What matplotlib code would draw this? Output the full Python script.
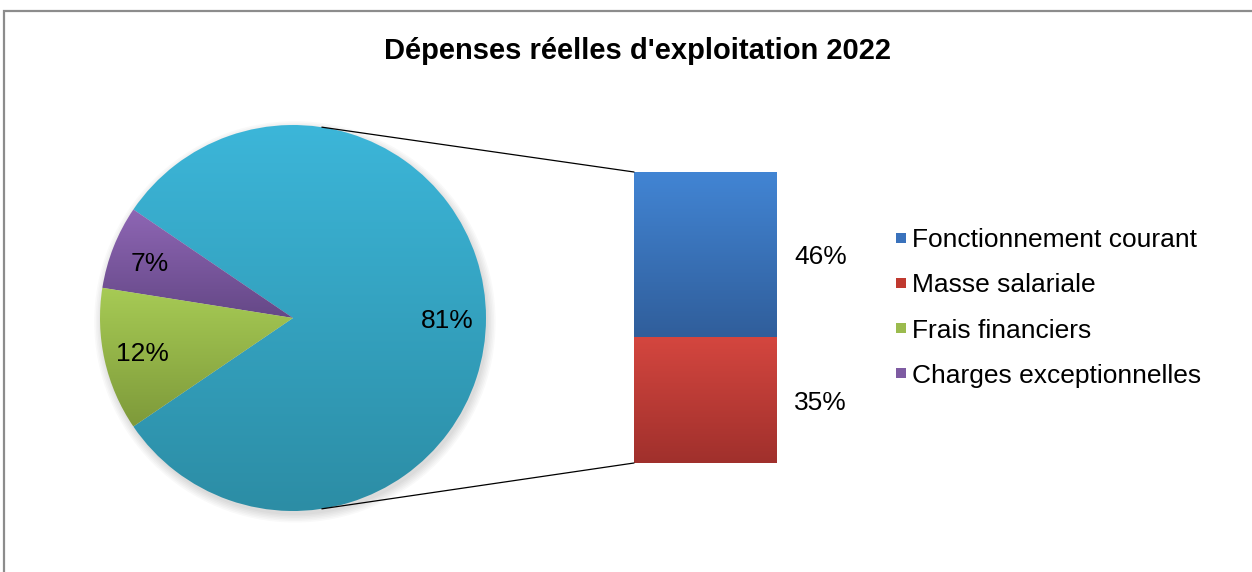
import numpy as np
import matplotlib.pyplot as plt
from matplotlib.colors import LinearSegmentedColormap
from matplotlib.patches import ConnectionPatch, Rectangle, Circle
from matplotlib.lines import Line2D

plt.rcParams['font.family'] = ['Liberation Sans', 'DejaVu Sans']

# Données
categories = ['Fonctionnement courant', 'Masse salariale', 'Frais financiers', 'Charges exceptionnelles']
values = [46, 35, 12, 7]
legend_colors = ['#3A72BC', '#C0392F', '#9BBB4E', '#7E5BA2']

# couleurs dégradées (haut, bas)
pie_grad = [('#3CB6D9', '#2C8DA5'), ('#8E66B4', '#654887'), ('#A7CB55', '#7E9A3A')]
bar_grad = [('#D4463F', '#A0302C'), ('#4285D4', '#305E9B')]

title = "Dépenses réelles d'exploitation 2022"

W, H = 1252, 572
fig = plt.figure(figsize=(W / 100, H / 100), dpi=100)


def gradient_fill(ax, patch, top, bottom):
    cmap = LinearSegmentedColormap.from_list('g', [bottom, top])
    ext = patch.get_path().transformed(patch.get_patch_transform()).get_extents()
    grad = np.linspace(1, 0, 256).reshape(-1, 1)
    im = ax.imshow(grad, cmap=cmap, extent=(ext.x0, ext.x1, ext.y0, ext.y1),
                   aspect='auto', zorder=patch.get_zorder(), interpolation='bilinear')
    im.set_clip_path(patch)
    patch.set_facecolor('none')


# Camembert : centre (293, 318) px, rayon 193 px
cx, cy, r = 293, 318, 193
lim = 1.08
ax_pie = fig.add_axes([(cx - lim * r) / W, (H - cy - lim * r) / H, 2 * lim * r / W, 2 * lim * r / H])
other = values[0] + values[1]
pie_vals = [other, values[3], values[2]]
start = -other / sum(values) * 360 / 2

# ombre légère
for k in range(6):
    ax_pie.add_patch(Circle((0.01, -0.02), 1.0 + 0.008 * k, facecolor='black',
                            alpha=0.025, linewidth=0, zorder=0))

wedges, texts, autotexts = ax_pie.pie(pie_vals, startangle=start, radius=1,
                                      autopct='%.0f%%', pctdistance=0.8,
                                      textprops={'fontsize': 19, 'color': 'black'},
                                      wedgeprops={'linewidth': 0, 'zorder': 1})
for w, (t, b) in zip(wedges, pie_grad):
    gradient_fill(ax_pie, w, t, b)
for t in autotexts:
    t.set_zorder(5)
    t.set_va('center_baseline')
ax_pie.set_xlim(-lim, lim)
ax_pie.set_ylim(-lim, lim)
ax_pie.set_aspect('equal')
ax_pie.axis('off')

# Barre
ax_bar = fig.add_axes([634 / W, 109 / H, 143 / W, 291 / H])
bar_vals = [values[1], values[0]]
bottom = 0
for v, (t, b) in zip(bar_vals, bar_grad):
    rect = ax_bar.bar(0, v, width=1, bottom=bottom, linewidth=0, zorder=2)[0]
    gradient_fill(ax_bar, rect, t, b)
    ax_bar.text(0.62, bottom + v / 2, f'{v}%', fontsize=19, ha='left', va='center_baseline')
    bottom += v
ax_bar.set_xlim(-0.5, 0.5)
ax_bar.set_ylim(0, other)
ax_bar.axis('off')

# lignes de liaison
theta = np.deg2rad(81.4)
for sgn, y in [(1, other), (-1, 0)]:
    con = ConnectionPatch(xyA=(np.cos(theta), sgn * np.sin(theta)), coordsA=ax_pie.transData,
                          xyB=(-0.5, y), coordsB=ax_bar.transData,
                          color='black', linewidth=0.9)
    fig.add_artist(con)

# Légende
handles = [Line2D([], [], marker='s', linestyle='none', markersize=7.5,
                  markerfacecolor=c, markeredgewidth=0) for c in legend_colors]
fig.legend(handles, categories, loc='center left', bbox_to_anchor=(895 / W, 1 - 308 / H),
           frameon=False, fontsize=19, borderpad=0, borderaxespad=0,
           handlelength=0.45, handletextpad=0.2, labelspacing=0.8)

fig.text(637 / W, 1 - 51 / H, title, fontsize=21, fontweight='bold', ha='center', va='center')

# cadre
fig.patches.append(Rectangle((4 / W, -0.1), 1.2, 1.1 - 11 / H, transform=fig.transFigure,
                             fill=False, edgecolor='#8C8C8C', linewidth=1.6))

fig.savefig('out.png', dpi=100)
